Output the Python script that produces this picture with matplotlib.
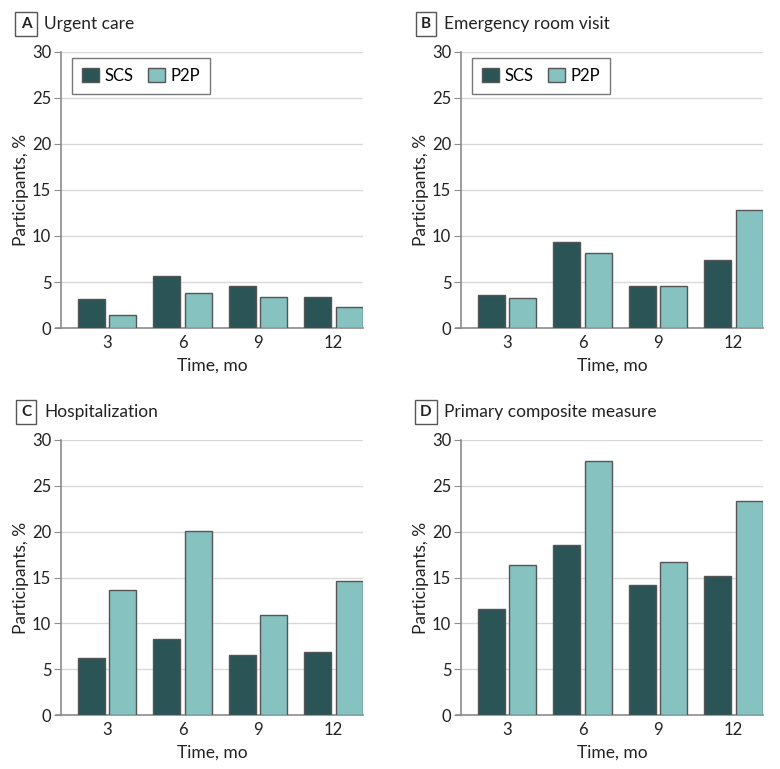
import numpy as np
import matplotlib.pyplot as plt
from matplotlib.patches import Patch

plt.rcParams['font.family'] = ['Lato', 'DejaVu Sans']

months = ['3', '6', '9', '12']
panel_letters = ['A', 'B', 'C', 'D']
panel_titles = ['Urgent care', 'Emergency room visit', 'Hospitalization',
                'Primary composite measure']
series_names = ['SCS', 'P2P']

scs_values = [
    [3.1, 5.6, 4.6, 3.4],
    [3.6, 9.3, 4.6, 7.4],
    [6.2, 8.3, 6.6, 6.9],
    [11.6, 18.5, 14.2, 15.2],
]
p2p_values = [
    [1.4, 3.8, 3.4, 2.3],
    [3.3, 8.2, 4.6, 12.8],
    [13.6, 20.1, 10.9, 14.6],
    [16.4, 27.7, 16.7, 23.3],
]

dark = '#2a5455'
light = '#85c2c0'
edge = '#555555'
axis_gray = '#8c8c8c'
txt = '#222222'

W, H = 780, 769
fig = plt.figure(figsize=(W / 100, H / 100), dpi=100)

# axes boxes in pixels: left, top, right, bottom
boxes = [(61, 52, 363, 328), (461, 52, 763, 328),
         (61, 440, 363, 715), (461, 440, 763, 715)]

x = np.arange(len(months))
off = 0.208
bw = 0.357

for i, (l, t, r, b) in enumerate(boxes):
    ax = fig.add_axes([l / W, 1 - b / H, (r - l) / W, (b - t) / H])
    ax.bar(x - off, scs_values[i], bw, color=dark, edgecolor=edge, linewidth=1, zorder=3)
    ax.bar(x + off, p2p_values[i], bw, color=light, edgecolor=edge, linewidth=1, zorder=3)
    ax.set_xlim(-0.61, 3.39)
    ax.set_ylim(0, 30)
    ax.set_yticks(range(0, 31, 5))
    ax.set_xticks(x)
    ax.set_xticklabels(months)
    ax.yaxis.grid(True, color='#d9d9d9', linewidth=1, zorder=0)
    ax.set_axisbelow(True)
    for s in ['top', 'right']:
        ax.spines[s].set_visible(False)
    for s in ['left', 'bottom']:
        ax.spines[s].set_color(axis_gray)
        ax.spines[s].set_linewidth(1.2)
    ax.spines['bottom'].set_bounds(-0.68, 3.39)
    ax.tick_params(axis='y', length=5, color=axis_gray, labelsize=12, pad=2, labelcolor=txt)
    ax.tick_params(axis='x', length=0, labelsize=12, pad=5, labelcolor=txt)
    ax.set_xlabel('Time, mo', fontsize=12.5, labelpad=5, color=txt)
    ax.set_ylabel('Participants, %', fontsize=12.5, labelpad=2, color=txt)

    # panel letter box and title
    fig.text((l - 35) / W, 1 - (t - 28) / H, panel_letters[i], fontsize=11, fontweight='bold',
             ha='center', va='center', color=txt,
             bbox=dict(boxstyle='square,pad=0.35', facecolor='white', edgecolor='#555555', linewidth=1))
    fig.text((l - 17) / W, 1 - (t - 28) / H, panel_titles[i], fontsize=12.5,
             ha='left', va='center', color=txt)

    if i < 2:
        handles = [Patch(facecolor=dark, edgecolor=edge), Patch(facecolor=light, edgecolor=edge)]
        leg = ax.legend(handles, series_names, loc='upper left', bbox_to_anchor=(0.036, 0.98),
                        ncol=2, fontsize=12, frameon=True, fancybox=False, handlelength=1.0,
                        handleheight=1.0, columnspacing=0.9, handletextpad=0.35,
                        borderpad=0.6, borderaxespad=0)
        leg.get_frame().set_edgecolor('#555555')
        leg.get_frame().set_linewidth(1)

fig.savefig('out.png', dpi=100)
